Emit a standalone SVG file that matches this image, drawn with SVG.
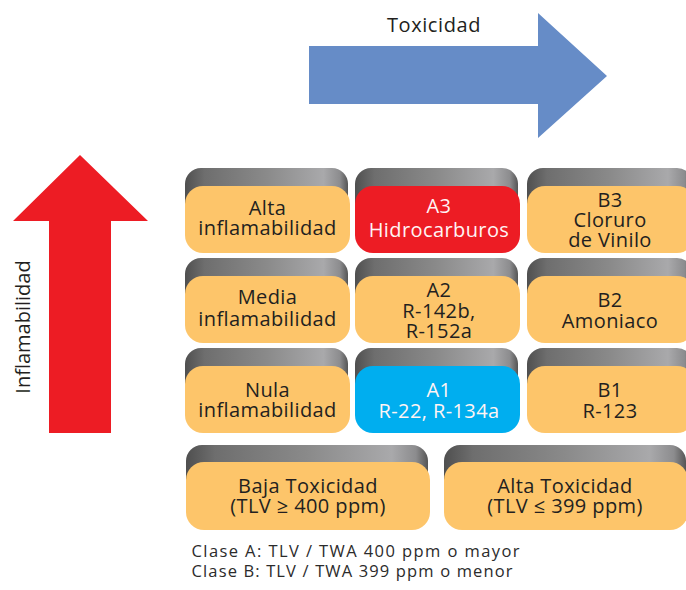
<svg xmlns="http://www.w3.org/2000/svg" width="686" height="590" viewBox="0 0 686 590">
  <defs>
    <linearGradient id="tab" x1="0" y1="0" x2="1" y2="0">
      <stop offset="0" stop-color="#4f4f4f"/>
      <stop offset="0.12" stop-color="#6e6e6e"/>
      <stop offset="0.5" stop-color="#8a8a8a"/>
      <stop offset="0.85" stop-color="#a9a9ab"/>
      <stop offset="0.95" stop-color="#8c8c8e"/>
      <stop offset="1" stop-color="#555"/>
    </linearGradient>
    <style>
      .tab { fill: url(#tab); }
      .or { fill: #FDC56A; }
      .red { fill: #ED1C24; }
      .blue { fill: #00AEEF; }
      text { font-family: "Open Sans", "Noto Sans", "DejaVu Sans", sans-serif; font-size: 20px; fill: #231F20; text-anchor: middle; letter-spacing: 0.4px; }
      .w { fill: #FFF4F4; }
      .ft { font-size: 16.5px; text-anchor: start; letter-spacing: 0; fill: #2b2b2b; }
      .ax { font-size: 20px; letter-spacing: 0.6px; }
    </style>
  </defs>

  <g id="arrows">
    <polygon points="309,46 538,46 538,13 607,76 538,138 538,104 309,104" fill="#668CC7"/>
    <polygon points="49,433 49,221 13,221 80,155 148,221 111,221 111,433" fill="#ED1C24"/>
    <text class="ax" x="434" y="32">Toxicidad</text>
    <text class="ax" x="0" y="0" transform="translate(30,327) rotate(-90)" style="letter-spacing:0">Inflamabilidad</text>
  </g>

  <!-- Row 1 -->
  <g id="alta-inflamabilidad">
    <rect class="tab" x="185" y="168" width="163" height="50" rx="16"/>
    <rect class="or" x="185" y="186" width="165" height="67" rx="18"/>
    <text x="267.5" y="215">Alta</text>
    <text x="267.5" y="235">inflamabilidad</text>
  </g>
  <g id="a3">
    <rect class="tab" x="355" y="168" width="163" height="50" rx="16"/>
    <rect class="red" x="355" y="186" width="165" height="67" rx="18"/>
    <text class="w" x="439" y="213">A3</text>
    <text class="w" x="439" y="237">Hidrocarburos</text>
  </g>
  <g id="b3">
    <rect class="tab" x="527" y="168" width="166" height="50" rx="16"/>
    <rect class="or" x="527" y="186" width="168" height="67" rx="18"/>
    <text x="610" y="206.5">B3</text>
    <text x="610" y="226.5">Cloruro</text>
    <text x="610" y="247">de Vinilo</text>
  </g>

  <!-- Row 2 -->
  <g id="media-inflamabilidad">
    <rect class="tab" x="185" y="258" width="163" height="50" rx="16"/>
    <rect class="or" x="185" y="276" width="165" height="67" rx="18"/>
    <text x="267.5" y="304">Media</text>
    <text x="267.5" y="326">inflamabilidad</text>
  </g>
  <g id="a2">
    <rect class="tab" x="355" y="258" width="163" height="50" rx="16"/>
    <rect class="or" x="355" y="276" width="165" height="67" rx="18"/>
    <text x="439" y="297">A2</text>
    <text x="439" y="318">R-142b,</text>
    <text x="439" y="338">R-152a</text>
  </g>
  <g id="b2">
    <rect class="tab" x="527" y="258" width="166" height="50" rx="16"/>
    <rect class="or" x="527" y="276" width="168" height="67" rx="18"/>
    <text x="610" y="306.5">B2</text>
    <text x="610" y="327.5">Amoniaco</text>
  </g>

  <!-- Row 3 -->
  <g id="nula-inflamabilidad">
    <rect class="tab" x="185" y="348" width="163" height="50" rx="16"/>
    <rect class="or" x="185" y="366" width="165" height="67" rx="18"/>
    <text x="267.5" y="397">Nula</text>
    <text x="267.5" y="417">inflamabilidad</text>
  </g>
  <g id="a1">
    <rect class="tab" x="355" y="348" width="163" height="50" rx="16"/>
    <rect class="blue" x="355" y="366" width="165" height="67" rx="18"/>
    <text class="w" x="439" y="397">A1</text>
    <text class="w" x="439" y="418">R-22, R-134a</text>
  </g>
  <g id="b1">
    <rect class="tab" x="527" y="348" width="166" height="50" rx="16"/>
    <rect class="or" x="527" y="366" width="168" height="67" rx="18"/>
    <text x="610" y="397">B1</text>
    <text x="610" y="418">R-123</text>
  </g>

  <!-- Bottom row -->
  <g id="baja-toxicidad">
    <rect class="tab" x="186" y="445" width="242" height="50" rx="16"/>
    <rect class="or" x="186" y="462" width="244" height="68" rx="18"/>
    <text x="308" y="493">Baja Toxicidad</text>
    <text x="308" y="513">(TLV ≥ 400 ppm)</text>
  </g>
  <g id="alta-toxicidad">
    <rect class="tab" x="444" y="445" width="242" height="50" rx="16"/>
    <rect class="or" x="444" y="462" width="244" height="68" rx="18"/>
    <text x="565" y="493">Alta Toxicidad</text>
    <text x="565" y="513">(TLV ≤ 399 ppm)</text>
  </g>

  <g id="notes">
    <text class="ft" x="191.5" y="557" textLength="328" lengthAdjust="spacing">Clase A: TLV / TWA 400 ppm o mayor</text>
    <text class="ft" x="191.5" y="577" textLength="321" lengthAdjust="spacing">Clase B: TLV / TWA 399 ppm o menor</text>
  </g>
</svg>
